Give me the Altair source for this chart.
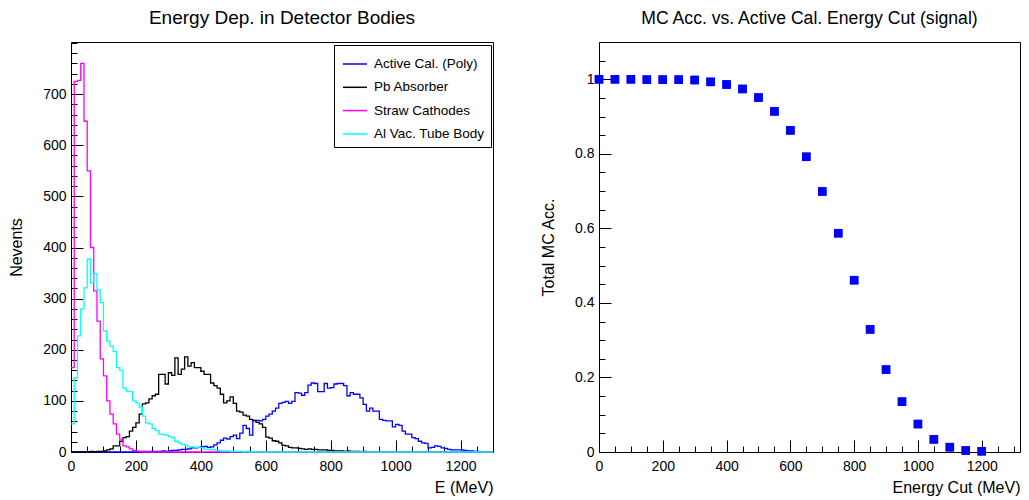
import altair as alt
import pandas as pd

FONT = "Liberation Sans"

# ---------------- left panel: energy deposition (10 MeV bins, 0-1300 MeV) ----------------
bin_low_edges = list(range(0, 1300, 10))
hist_upper_edge = 1300

active_cal_poly = [
    0, 0, 0, 0, 0, 0, 0, 0, 0, 0,
    0, 0, 0, 0, 0, 0, 0, 0, 0, 0,
    0, 0, 1, 0, 1, 1, 1, 1, 2, 1,
    2, 3, 3, 4, 5, 5, 6, 8, 8, 9,
    10, 11, 9, 10, 14, 18, 23, 27, 25, 30,
    33, 26, 37, 52, 46, 33, 61, 62, 61, 64,
    70, 74, 80, 86, 95, 97, 99, 95, 99, 116,
    115, 111, 116, 131, 135, 134, 118, 118, 134, 125,
    126, 133, 134, 134, 130, 110, 116, 113, 113, 106,
    93, 80, 86, 80, 80, 64, 62, 61, 61, 49,
    54, 52, 41, 35, 35, 28, 26, 21, 18, 17,
    8, 9, 12, 11, 8, 7, 5, 4, 4, 4,
    4, 3, 2, 2, 1, 1, 0, 0, 0, 0,
]

pb_absorber = [
    0, 0, 0, 0, 0, 0, 1, 0, 1, 1,
    2, 4, 6, 12, 12, 21, 28, 30, 41, 48,
    57, 74, 94, 96, 104, 110, 113, 152, 152, 133,
    155, 150, 184, 152, 162, 186, 168, 175, 165, 165,
    158, 152, 152, 135, 130, 125, 113, 96, 100, 108,
    95, 80, 78, 72, 70, 64, 62, 58, 55, 48,
    29, 27, 22, 21, 18, 13, 12, 9, 8, 8,
    7, 6, 5, 6, 5, 5, 4, 4, 4, 3,
    3, 2, 2, 2, 1, 2, 1, 1, 1, 0,
    1, 0, 0, 0, 0, 0, 0, 0, 0, 0,
    0, 0, 0, 0, 0, 0, 0, 0, 0, 0,
    0, 0, 0, 0, 0, 0, 0, 0, 0, 0,
    0, 0, 0, 0, 0, 0, 0, 0, 0, 0,
]

straw_cathodes = [
    165, 725, 727, 760, 647, 550, 400, 315, 256, 182,
    149, 100, 74, 55, 35, 25, 12, 10, 6, 3,
    2, 1, 0, 1, 0, 0, 0, 0, 0, 0,
] + [0] * 100

al_vac_tube_body = [
    55, 145, 227, 280, 321, 377, 331, 349, 317, 292,
    237, 217, 207, 197, 165, 160, 125, 119, 118, 100,
    96, 88, 70, 57, 55, 46, 42, 35, 34, 33,
    30, 28, 21, 18, 15, 13, 10, 10, 9, 9,
    8, 5, 5, 4, 4, 3, 2, 2, 2, 1,
    1, 1, 1, 0, 1, 0, 0, 0, 0, 0,
] + [0] * 70

series_names = ["Active Cal. (Poly)", "Pb Absorber", "Straw Cathodes", "Al Vac. Tube Body"]
series_colors = ["#0000ff", "#000000", "#ff00ff", "#00ffff"]
series_values = [active_cal_poly, pb_absorber, straw_cathodes, al_vac_tube_body]

# ---------------- right panel: MC acceptance vs. energy cut ----------------
energy_cuts = list(range(0, 1250, 50))
mc_acceptance = [
    1.0, 1.0, 1.0, 0.999, 0.999, 0.999, 0.998, 0.993, 0.986, 0.974,
    0.951, 0.914, 0.863, 0.792, 0.699, 0.587, 0.461, 0.329, 0.221, 0.135,
    0.075, 0.034, 0.013, 0.004, 0.002,
]

# ---------------- tick values ----------------
left_x_major = [0, 200, 400, 600, 800, 1000, 1200]
left_x_minor = list(range(0, 1301, 50))
left_y_major = [0, 100, 200, 300, 400, 500, 600, 700]
left_y_minor = list(range(0, 801, 20))
right_x_major = [0, 200, 400, 600, 800, 1000, 1200]
right_x_minor = list(range(0, 1301, 50))
right_y_major = [0, 0.2, 0.4, 0.6, 0.8, 1.0]
right_y_minor = [round(i * 0.05, 2) for i in range(23)]

# ---------------- tables ----------------
rows = []
for name, vals in zip(series_names, series_values):
    for e, v in zip(bin_low_edges, vals):
        rows.append({"series": name, "E": e, "N": v})
    rows.append({"series": name, "E": hist_upper_edge, "N": vals[-1]})
hist_df = pd.DataFrame(rows)

acc_df = pd.DataFrame({"cut": energy_cuts, "acc": mc_acceptance})


def major_axis(orient, values, title, fmt, label_pad, title_pad, anchor):
    return alt.Axis(
        orient=orient, values=values, title=title, format=fmt,
        tickSize=12, offset=-12, domain=False, grid=False,
        tickColor="black", tickWidth=1,
        labelFont=FONT, labelFontSize=14, labelColor="black",
        labelPadding=label_pad, labelFlush=False, labelOverlap=False,
        titleFont=FONT, titleFontSize=16, titleFontWeight="normal",
        titleColor="black", titlePadding=title_pad, titleAnchor=anchor,
    )


def minor_axis(orient, values):
    return alt.Axis(
        orient=orient, values=values, title=None, labels=False,
        tickSize=6, offset=-6, domain=False, grid=False,
        tickColor="black", tickWidth=1,
    )


# ---------------- left chart ----------------
lx_scale = alt.Scale(domain=[0, 1300], nice=False, zero=False)
ly_scale = alt.Scale(domain=[0, 802], nice=False)

color_enc = alt.Color(
    "series:N",
    scale=alt.Scale(domain=series_names, range=series_colors),
    legend=alt.Legend(
        title=None, orient="none", legendX=263, legendY=3, direction="vertical",
        fillColor="white", strokeColor="black", padding=6,
        symbolType="stroke", symbolSize=576, symbolStrokeWidth=1.5,
        symbolOffset=2,
        labelFont=FONT, labelFontSize=13.5, labelColor="black",
        labelOffset=6, rowPadding=3.3, labelLimit=400,
    ),
)

axes_plan = [
    (major_axis("bottom", left_x_major, "E (MeV)", "d", 7, 6, "end"),
     major_axis("left", left_y_major, "Nevents", "d", 5, 18, "middle")),
    (minor_axis("bottom", left_x_minor), minor_axis("left", left_y_minor)),
    (None, None),
    (None, None),
]

layers = []
for name, (ax_x, ax_y) in zip(series_names, axes_plan):
    layers.append(
        alt.Chart()
        .transform_filter(alt.datum.series == name)
        .mark_line(interpolate="step-after", strokeWidth=1.3)
        .encode(
            x=alt.X("E:Q", scale=lx_scale, axis=ax_x),
            y=alt.Y("N:Q", scale=ly_scale, axis=ax_y),
            color=color_enc,
        )
    )

left = (
    alt.layer(*layers, data=hist_df)
    .resolve_axis(x="independent", y="independent")
    .properties(
        width=422, height=410,
        title=alt.TitleParams(
            "Energy Dep. in Detector Bodies", font=FONT, fontSize=19,
            fontWeight="normal", color="black", anchor="middle",
            baseline="alphabetic", offset=-1,
        ),
    )
)

# ---------------- right chart ----------------
rx_scale = alt.Scale(domain=[0, 1320], nice=False, zero=False)
ry_scale = alt.Scale(domain=[0, 1.1], nice=False)

pts_major = alt.Chart(acc_df).mark_square(size=72, color="#0000ff", opacity=1).encode(
    x=alt.X("cut:Q", scale=rx_scale,
            axis=major_axis("bottom", right_x_major, "Energy Cut (MeV)", "d", 7, 6, "end")),
    y=alt.Y("acc:Q", scale=ry_scale,
            axis=major_axis("left", right_y_major, "Total MC Acc.", "~g", 5, 18, "middle")),
)
pts_minor = alt.Chart(acc_df).mark_square(size=72, color="#0000ff", opacity=1).encode(
    x=alt.X("cut:Q", scale=rx_scale, axis=minor_axis("bottom", right_x_minor)),
    y=alt.Y("acc:Q", scale=ry_scale, axis=minor_axis("left", right_y_minor)),
)

right = (
    alt.layer(pts_major, pts_minor)
    .resolve_axis(x="independent", y="independent")
    .properties(
        width=421, height=410,
        title=alt.TitleParams(
            "MC Acc. vs. Active Cal. Energy Cut (signal)", font=FONT, fontSize=17.6,
            fontWeight="normal", color="black", anchor="middle",
            baseline="alphabetic", offset=0.4,
        ),
    )
)

chart = (
    alt.HConcatChart(hconcat=[left, right], spacing=106, bounds="flush")
    .configure(padding={"left": 0, "top": 0, "right": 0, "bottom": 0}, background="white")
    .configure_view(stroke="black", strokeWidth=1)
)

chart.save("out.html", embed_options={"renderer": "svg", "actions": False})
